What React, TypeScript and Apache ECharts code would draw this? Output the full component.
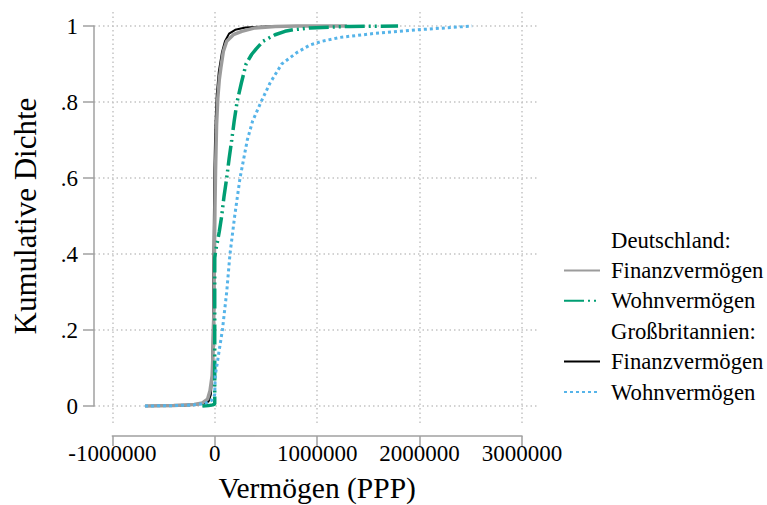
import React, { useEffect, useRef } from "react";
import * as echarts from "echarts";

// ---- data ----
const xTicks = [-1000000, 0, 1000000, 2000000, 3000000];
const yTicks = [0, 0.2, 0.4, 0.6, 0.8, 1];

const deFinanz: [number, number][] = [
  [-680000, 0], [-400000, 0.001], [-200000, 0.004], [-120000, 0.008], [-70000, 0.018],
  [-46000, 0.04], [-25000, 0.08], [-15000, 0.15], [-8000, 0.25], [-3000, 0.4],
  [2000, 0.52], [8000, 0.62], [18000, 0.74], [30000, 0.81], [45000, 0.86],
  [60000, 0.89], [84000, 0.933], [117000, 0.96], [182000, 0.977], [264000, 0.986],
  [394000, 0.995], [590000, 0.999], [800000, 1], [1290000, 1],
];

const deWohn: [number, number][] = [
  [-120000, 0], [-60000, 0.001], [-20000, 0.003], [0, 0.005], [0, 0.39], [10000, 0.41],
  [25000, 0.43], [45000, 0.46], [68000, 0.5], [90000, 0.55], [117000, 0.6], [140000, 0.65],
  [166000, 0.7], [190000, 0.75], [218000, 0.8], [260000, 0.85], [306000, 0.9],
  [360000, 0.925], [405000, 0.94], [472000, 0.96], [589000, 0.977], [686000, 0.986],
  [765000, 0.99], [930000, 0.995], [1320000, 0.999], [1790000, 1],
];

const gbFinanz: [number, number][] = [
  [-420000, 0], [-250000, 0.002], [-120000, 0.006], [-60000, 0.012], [-38000, 0.03],
  [-25000, 0.08], [-18000, 0.2], [-13000, 0.35], [-8000, 0.5], [-3000, 0.62],
  [3000, 0.7], [10000, 0.76], [20000, 0.82], [40000, 0.88], [70000, 0.93],
  [100000, 0.96], [140000, 0.98], [200000, 0.99], [300000, 0.996], [500000, 0.999],
  [800000, 1],
];

const gbWohn: [number, number][] = [
  [-680000, 0], [-400000, 0.001], [-200000, 0.003], [-100000, 0.006], [-30000, 0.015],
  [0, 0.03], [5000, 0.08], [25000, 0.113], [40000, 0.14], [75000, 0.2], [117000, 0.3],
  [149000, 0.4], [195000, 0.5], [247000, 0.6], [318000, 0.7], [370000, 0.75],
  [452000, 0.8], [540000, 0.85], [654000, 0.9], [801000, 0.93], [931000, 0.95],
  [1050000, 0.96], [1224000, 0.97], [1546000, 0.98], [1976000, 0.99], [2250000, 0.995],
  [2513000, 1],
];

const legendNames = [
  "Deutschland:",
  "Finanzvermögen (DE)",
  "Wohnvermögen (DE)",
  "Großbritannien:",
  "Finanzvermögen (GB)",
  "Wohnvermögen (GB)",
];

const FONT = "Liberation Serif";
const AXIS_COLOR = "#a0a0a0";
const GRID_COLOR = "#c4c4c4";

export default function App() {
  const ref = useRef<HTMLDivElement>(null);

  useEffect(() => {
    if (!ref.current) return;
    const chart = echarts.init(ref.current, undefined, { renderer: "svg" });

    const xMin = xTicks[0];
    const xMax = xTicks[xTicks.length - 1];
    const xInt = xTicks[1] - xTicks[0];
    const yMin = yTicks[0];
    const yMax = yTicks[yTicks.length - 1];
    const yInt = yTicks[1] - yTicks[0];

    const dottedGrid = {
      show: true,
      lineStyle: { color: GRID_COLOR, width: 1.5, type: [1.5, 3] as any },
    };

    chart.setOption({
      animation: false,
      backgroundColor: "#ffffff",
      textStyle: { fontFamily: FONT },
      grid: [
        // data grid
        { left: 112.3, top: 26, width: 409.7, height: 380, containLabel: false, outerBoundsMode: "none" },
        // vertical grid lines
        { left: 112.3, top: 12, width: 409.7, height: 411, containLabel: false, outerBoundsMode: "none" },
        // y axis + horizontal grid lines
        { left: 94, top: 26, width: 445, height: 380, containLabel: false, outerBoundsMode: "none" },
      ],
      xAxis: [
        {
          gridIndex: 0,
          type: "value",
          min: xMin,
          max: xMax,
          interval: xInt,
          offset: 30,
          axisLine: { show: true, onZero: false, lineStyle: { color: AXIS_COLOR, width: 1.5 } },
          axisTick: { show: true, inside: false, length: 10, lineStyle: { color: AXIS_COLOR, width: 1.5 } },
          axisLabel: {
            show: true,
            margin: 6,
            color: "#000",
            fontFamily: FONT,
            fontSize: 23,
            formatter: (v: number) => String(v),
          },
          splitLine: { show: false },
          name: "Vermögen (PPP)",
          nameLocation: "middle",
          nameGap: 37,
          nameTextStyle: { color: "#000", fontFamily: FONT, fontSize: 29.5 },
        },
        {
          gridIndex: 1,
          type: "value",
          min: xMin,
          max: xMax,
          interval: xInt,
          axisLine: { show: false },
          axisTick: { show: false },
          axisLabel: { show: false },
          splitLine: dottedGrid,
        },
        {
          gridIndex: 2,
          type: "value",
          min: 0,
          max: 1,
          show: false,
        },
      ],
      yAxis: [
        { gridIndex: 0, type: "value", min: yMin, max: yMax, show: false },
        { gridIndex: 1, type: "value", min: 0, max: 1, show: false },
        {
          gridIndex: 2,
          type: "value",
          min: yMin,
          max: yMax,
          interval: yInt,
          axisLine: { show: true, onZero: false, lineStyle: { color: AXIS_COLOR, width: 1.5 } },
          axisTick: { show: true, inside: false, length: 11, lineStyle: { color: AXIS_COLOR, width: 1.5 } },
          axisLabel: {
            show: true,
            margin: 16,
            color: "#000",
            fontFamily: FONT,
            fontSize: 23,
            formatter: (v: number) => {
              const r = Math.round(v * 10) / 10;
              if (r === 0) return "0";
              if (r === 1) return "1";
              return String(r).replace(/^0/, "");
            },
          },
          splitLine: dottedGrid,
          name: "Kumulative Dichte",
          nameLocation: "middle",
          nameRotate: 90,
          nameGap: 53,
          nameTextStyle: { color: "#000", fontFamily: FONT, fontSize: 31 },
        },
      ],
      legend: {
        orient: "vertical",
        left: 558,
        top: 223.5,
        itemWidth: 36,
        itemHeight: 14,
        itemGap: 7.4,
        selectedMode: false,
        itemStyle: { opacity: 0 },
        textStyle: { color: "#000", fontFamily: FONT, fontSize: 22.7, lineHeight: 23, padding: [0, 0, 0, 6] },
        formatter: (name: string) => name.replace(/ \((DE|GB)\)$/, ""),
        data: legendNames.map((n) => (n.endsWith(":") ? { name: n, icon: "none" } : { name: n })),
      },
      series: [
        { name: legendNames[0], type: "line", data: [], symbol: "none", xAxisIndex: 0, yAxisIndex: 0 },
        { name: legendNames[3], type: "line", data: [], symbol: "none", xAxisIndex: 0, yAxisIndex: 0 },
        {
          name: legendNames[4],
          type: "line",
          data: gbFinanz,
          symbol: "none",
          xAxisIndex: 0,
          yAxisIndex: 0,
          clip: false,
          z: 2,
          lineStyle: { color: "#000000", width: 2 },
          itemStyle: { color: "#000000" },
        },
        {
          name: legendNames[1],
          type: "line",
          data: deFinanz,
          symbol: "none",
          xAxisIndex: 0,
          yAxisIndex: 0,
          clip: false,
          z: 3,
          lineStyle: { color: "#9c9c9c", width: 3.5 },
          itemStyle: { color: "#9c9c9c" },
        },
        {
          name: legendNames[2],
          type: "line",
          data: deWohn,
          symbol: "none",
          xAxisIndex: 0,
          yAxisIndex: 0,
          clip: false,
          z: 4,
          lineStyle: { color: "#009E73", width: 3.5, type: [20, 4, 2, 4, 2, 4] as any },
          itemStyle: { color: "#009E73" },
        },
        {
          name: legendNames[5],
          type: "line",
          data: gbWohn,
          symbol: "none",
          xAxisIndex: 0,
          yAxisIndex: 0,
          clip: false,
          z: 5,
          lineStyle: { color: "#56B4E9", width: 3, type: [3, 3] as any },
          itemStyle: { color: "#56B4E9" },
        },
      ],
    });

    return () => chart.dispose();
  }, []);

  return (
    <div
      ref={ref}
      style={{ position: "fixed", left: 0, top: 0, width: 767, height: 505, background: "#fff" }}
    />
  );
}
